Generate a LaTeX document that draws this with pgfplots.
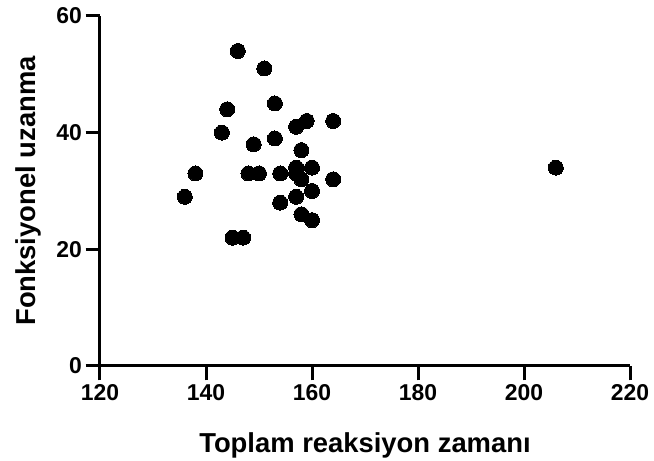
\documentclass[border=0pt]{standalone}
\usepackage{pgfplots}
\pgfplotsset{compat=1.18}
\usepackage{fontspec}
\setmainfont{Liberation Sans}
\newfontfamily\tlfont{Liberation Sans}[UprightFont=* Bold]
\newcommand{\tl}[1]{\hbox{\fontsize{23}{27}\tlfont #1}}
\begin{document}
\begin{tikzpicture}
\begin{axis}[
  name=ax,
  scale only axis,
  width=530bp, height=350bp,
  xmin=120, xmax=220, ymin=0, ymax=60,
  axis x line*=bottom, axis y line*=left,
  axis line style={-, line width=3bp},
  xtick={120,140,160,180,200,220},
  ytick={0,20,40,60},
  xticklabel={\tl{\pgfmathprintnumber[assume math mode=true]{\tick}}},
  yticklabel={\tl{\pgfmathprintnumber[assume math mode=true]{\tick}}},
  tick align=outside,
  major tick length=14.5bp,
  every tick/.append style={line width=3bp, black},
  xlabel={Toplam reaksiyon zamanı},
  ylabel={Fonksiyonel uzanma},
  label style={font=\fontsize{27.5}{32}\selectfont\bfseries},
  xlabel style={at={(axis description cs:0.5,-0.2486)}, anchor=base},
  ylabel style={at={(axis description cs:-0.1226,0.5)}, anchor=base},
  clip=false,
]
\addplot[only marks, mark=*, mark size=7.5bp, mark options={fill=black, draw=black, line width=0pt}] coordinates {
(146,54) (151,51) (153,45) (144,44) (157,41) (159,42) (164,42) (143,40)
(153,39) (149,38) (158,37) (138,33) (148,33) (150,33) (154,33) (157,34)
(160,34) (157,33) (158,32) (164,32) (136,29) (157,29) (160,30) (154,28)
(158,26) (160,25) (145,22) (147,22) (206,34)
};
\end{axis}
\pgfresetboundingbox
\path ([xshift=-100bp,yshift=-95bp]ax.south west) rectangle ([xshift=24bp,yshift=16bp]ax.north east);
\end{tikzpicture}
\end{document}
